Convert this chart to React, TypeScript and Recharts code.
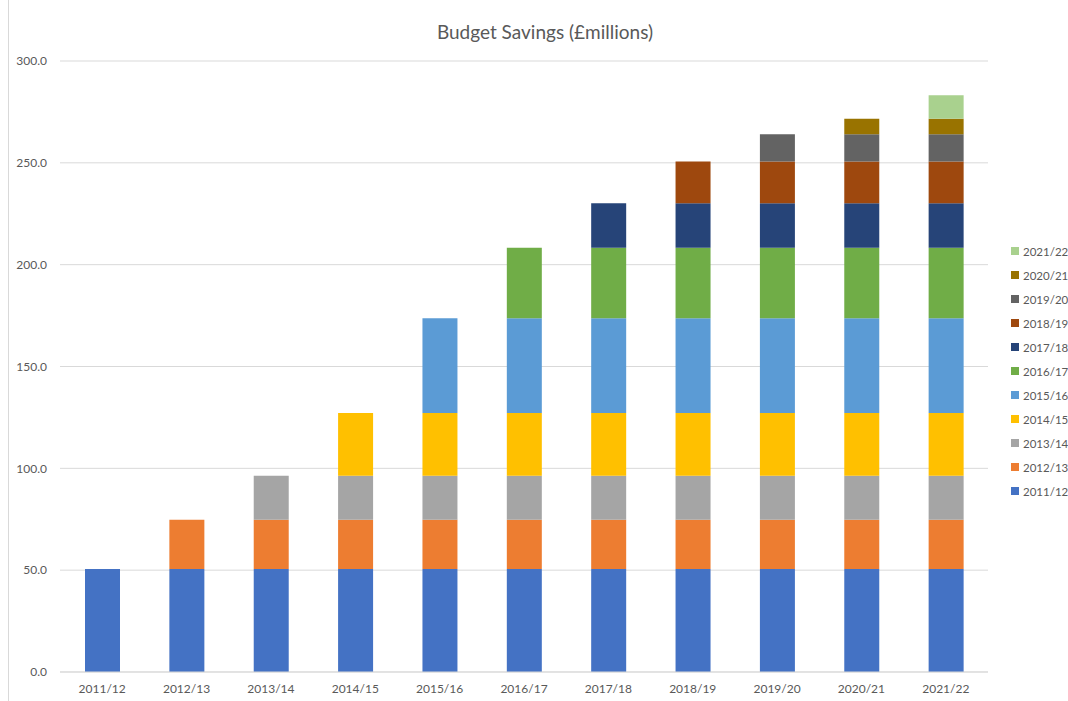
import React from "react";
import { BarChart, Bar, XAxis, YAxis, CartesianGrid } from "recharts";

const years = [
  "2011/12", "2012/13", "2013/14", "2014/15", "2015/16", "2016/17",
  "2017/18", "2018/19", "2019/20", "2020/21", "2021/22",
];

// savings delivered in each year (£m), carried forward into later years
const yearSavings = [50.6, 24.2, 21.6, 30.8, 46.5, 34.6, 21.8, 20.5, 13.4, 7.7, 11.5];

const colors = [
  "#4472C4", "#ED7D31", "#A5A5A5", "#FFC000", "#5B9BD5", "#70AD47",
  "#264478", "#9E480E", "#636363", "#997300", "#A9D18E",
];

const yTicks = [0, 50, 100, 150, 200, 250, 300];

const data = years.map((year, i) => {
  const row: Record<string, any> = { year };
  years.forEach((s, j) => {
    row[s] = j <= i ? yearSavings[j] : null;
  });
  return row;
});

const FONT = "Lato, 'Open Sans', sans-serif";
const TEXT = "#595959";

const LegendBox = () => (
  <div
    style={{
      position: "absolute",
      left: 1011,
      top: 239,
      fontFamily: FONT,
      fontSize: 11.5,
      color: TEXT,
      whiteSpace: "nowrap",
    }}
  >
    {years
      .slice()
      .reverse()
      .map((s) => {
        const c = colors[years.indexOf(s)];
        return (
          <div key={s} style={{ display: "flex", alignItems: "center", height: 24 }}>
            <span style={{ width: 8, height: 8, background: c, marginRight: 4, display: "inline-block" }} />
            <span>{s}</span>
          </div>
        );
      })}
  </div>
);

export default function App() {
  return (
    <div style={{ position: "absolute", left: 0, top: 0, width: 1068, height: 701, background: "#fff", overflow: "hidden" }}>
      <div style={{ position: "absolute", left: 8, top: 0, width: 1, height: 701, background: "#d9d9d9" }} />
      <div
        style={{
          position: "absolute",
          top: 20,
          left: 0,
          width: 1090,
          textAlign: "center",
          fontFamily: FONT,
          fontSize: 19,
          color: TEXT,
        }}
      >
        Budget Savings (£millions)
      </div>
      <BarChart
        width={1068}
        height={701}
        data={data}
        margin={{ top: 61, right: 80, bottom: 0, left: 0 }}
        barSize={35}
      >
        <CartesianGrid vertical={false} stroke="#d9d9d9" />
        <XAxis
          dataKey="year"
          height={29}
          tickLine={false}
          axisLine={{ stroke: "#d9d9d9" }}
          tick={{ fill: TEXT, fontSize: 12, fontFamily: FONT }}
          tickMargin={6}
        />
        <YAxis
          width={60}
          domain={[0, 300]}
          ticks={yTicks}
          tickFormatter={(v: number) => v.toFixed(1)}
          axisLine={false}
          tickLine={false}
          tickMargin={7}
          tick={{ fill: TEXT, fontSize: 12, fontFamily: FONT }}
        />
        {years.map((s, j) => (
          <Bar
            key={s}
            dataKey={s}
            stackId="a"
            fill={colors[j]}
            isAnimationActive={false}
          />
        ))}
      </BarChart>
      <LegendBox />
    </div>
  );
}
